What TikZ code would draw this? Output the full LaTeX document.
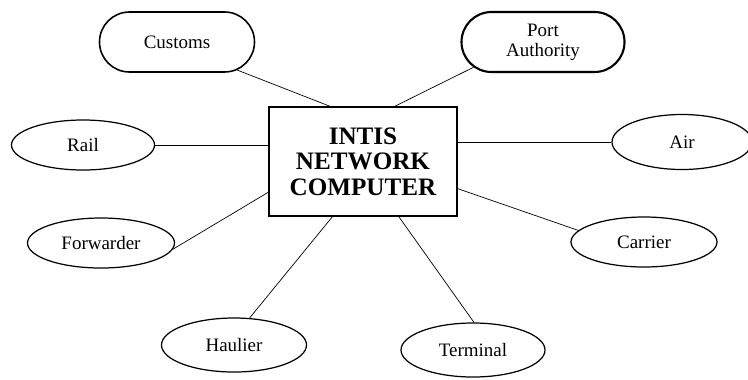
\documentclass[tikz,border=0pt]{standalone}
\usepackage{fontspec}
\setmainfont{Liberation Serif}
\usetikzlibrary{shapes.misc,shapes.geometric}

\begin{document}
\begin{tikzpicture}[enode/.style={draw,ellipse,line width=0.7pt,inner sep=0pt,font=\fontsize{10.8}{11.5}\selectfont},
    rnode/.style={draw,rounded rectangle,line width=0.9pt,inner sep=0pt,minimum width=3.1cm,minimum height=1.2cm,font=\fontsize{10.8}{11.5}\selectfont,align=center},
    bnode/.style={draw,rectangle,line width=0.9pt,minimum width=3.76cm,minimum height=2.18cm,align=center,font=\bfseries\fontsize{14.3}{14.4}\selectfont}]
    \useasboundingbox (0,0) rectangle (14.96,7.58);
    \node[bnode] (box) at (7.26, 4.35) {INTIS\\NETWORK\\COMPUTER};
    \node[rnode] (customs) at (3.54, 6.74) {Customs};
    \node[rnode, minimum width=3.26cm, line width=1.2pt] (port) at (10.86, 6.74) {Port\\Authority};
    \node[enode, minimum width=2.86cm, minimum height=1.0cm] (rail) at (1.66, 4.68) {Rail};
    \node[enode, minimum width=2.8cm, minimum height=1.1cm] (air) at (13.64, 4.74) {Air};
    \node[enode, minimum width=2.94cm, minimum height=1.0cm] (forwarder) at (2.02, 2.72) {Forwarder};
    \node[enode, minimum width=2.92cm, minimum height=1.0cm] (carrier) at (12.88, 2.74) {Carrier};
    \node[enode, minimum width=2.9cm, minimum height=1.08cm] (haulier) at (4.68, 0.68) {Haulier};
    \node[enode, minimum width=2.88cm, minimum height=1.08cm] (terminal) at (9.46, 0.58) {Terminal};

    \draw (customs.-25) -- (box.121);
    \draw (port.200) -- (box.60);
    \draw (rail.east) -- (rail.east -| box.west);
    \draw (box.east |- air.west) -- (air.west);
    \draw (forwarder.-5) -- (box.198);
    \draw (box.-16) -- (carrier.170);
    \draw (haulier.60) -- (box.241);
    \draw (box.303) -- (terminal.88);
\end{tikzpicture}
\end{document}
